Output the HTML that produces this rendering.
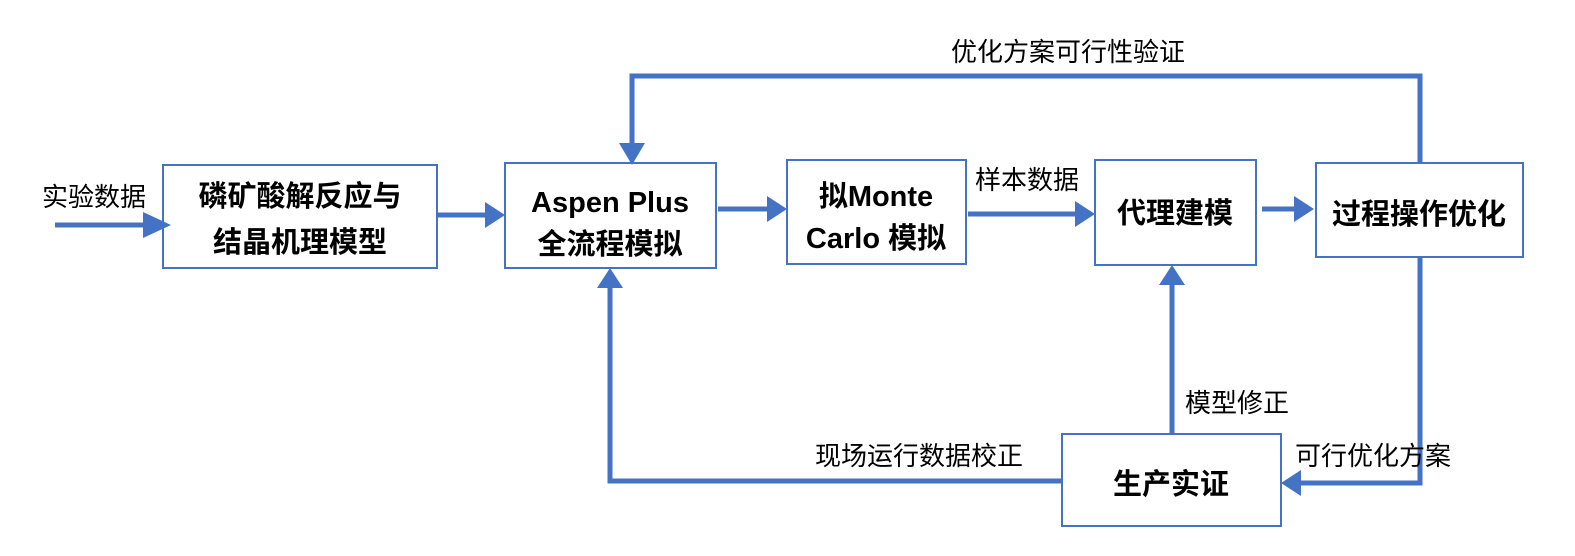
<!DOCTYPE html>
<html><head><meta charset="utf-8"><style>
body{margin:0;background:#fff;}
svg{display:block;}
text{font-family:"Liberation Sans","Noto Sans CJK SC",sans-serif;}
.b{font-weight:bold;font-size:29px;fill:#000;}
.l{font-size:26px;fill:#000;}
</style></head><body>
<svg width="1575" height="556" viewBox="0 0 1575 556" xmlns="http://www.w3.org/2000/svg">
<g fill="#fff" stroke="#4472C4" stroke-width="2">
<rect x="163" y="165" width="274" height="103"/>
<rect x="505" y="163" width="211" height="105"/>
<rect x="787" y="160" width="179" height="104"/>
<rect x="1095" y="160" width="161" height="105"/>
<rect x="1316" y="163" width="207" height="94"/>
<rect x="1062" y="434" width="219" height="92"/>
</g>
<g fill="none" stroke="#4472C4" stroke-width="5">
<line x1="55" y1="225" x2="145" y2="225"/>
<line x1="437" y1="215" x2="487" y2="215"/>
<line x1="718" y1="209" x2="769" y2="209"/>
<line x1="968" y1="214" x2="1077" y2="214"/>
<line x1="1262" y1="209" x2="1296" y2="209"/>
<polyline points="1420,163 1420,76 632,76 632,145"/>
<polyline points="1420,257 1420,483 1299,483"/>
<line x1="1172" y1="434" x2="1172" y2="283"/>
<polyline points="1062,481 610,481 610,286"/>
</g>
<g fill="#4472C4">
<polygon points="143,212 171,225 143,238"/>
<polygon points="485,202 505,215 485,228"/>
<polygon points="767,196 787,209 767,222"/>
<polygon points="1075,201 1095,214 1075,227"/>
<polygon points="1294,196 1314,209 1294,222"/>
<polygon points="619,143 645,143 632,165"/>
<polygon points="1301,470 1301,496 1281,483"/>
<polygon points="1159,285 1185,285 1172,265"/>
<polygon points="597,288 623,288 610,268"/>
</g>
<text class="b" x="300" y="206" text-anchor="middle">磷矿酸解反应与</text>
<text class="b" x="300" y="252" text-anchor="middle">结晶机理模型</text>
<text class="b" x="610" y="212" text-anchor="middle">Aspen Plus</text>
<text class="b" x="610" y="254" text-anchor="middle">全流程模拟</text>
<text class="b" x="876" y="206" text-anchor="middle">拟Monte</text>
<text class="b" x="876" y="248" text-anchor="middle">Carlo 模拟</text>
<text class="b" x="1175" y="223" text-anchor="middle">代理建模</text>
<text class="b" x="1419" y="224" text-anchor="middle">过程操作优化</text>
<text class="b" x="1171" y="494" text-anchor="middle">生产实证</text>
<text class="l" x="42" y="206">实验数据</text>
<text class="l" x="975" y="189">样本数据</text>
<text class="l" x="1068" y="61" text-anchor="middle">优化方案可行性验证</text>
<text class="l" x="1185" y="412">模型修正</text>
<text class="l" x="1295" y="465">可行优化方案</text>
<text class="l" x="815" y="465">现场运行数据校正</text>
</svg>
</body></html>
